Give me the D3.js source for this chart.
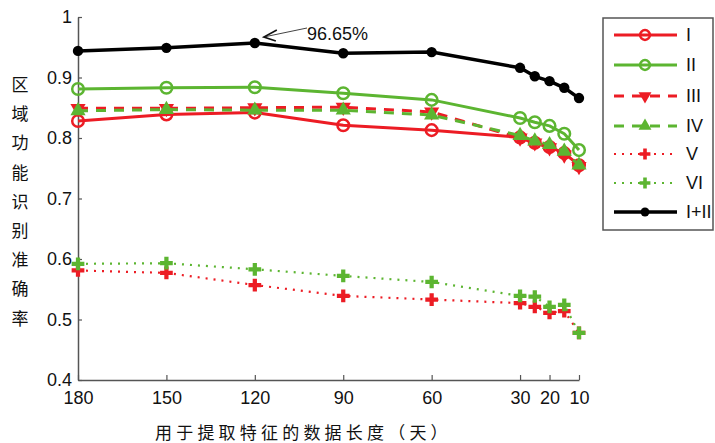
<!DOCTYPE html>
<html>
<head>
<meta charset="utf-8">
<script src="https://cdn.jsdelivr.net/npm/d3@7"></script>
<style>
  html, body { margin: 0; padding: 0; background: #fff; }
  svg { display: block; }
  text { font-family: "Liberation Sans", Arial, Helvetica, sans-serif; fill: #111; }
  .cjk { font-family: "Noto Sans CJK SC", sans-serif; }
</style>
</head>
<body>
<div id="container"></div>
<script>
const width = 715;
const height = 443;

// data length in days
const lengthDays = [180, 150, 120, 90, 60, 30, 25, 20, 15, 10];
const xTicks = [180, 150, 120, 90, 60, 30, 20, 10];
const yTicks = [0.4, 0.5, 0.6, 0.7, 0.8, 0.9, 1];

const seriesI   = [0.828, 0.839, 0.842, 0.821, 0.813, 0.801, 0.792, 0.785, 0.775, 0.755];
const seriesII  = [0.881, 0.883, 0.884, 0.874, 0.863, 0.833, 0.826, 0.820, 0.807, 0.780];
const seriesIII = [0.849, 0.849, 0.850, 0.851, 0.843, 0.800, 0.792, 0.784, 0.772, 0.753];
const seriesIV  = [0.845, 0.847, 0.846, 0.846, 0.838, 0.804, 0.795, 0.789, 0.778, 0.755];
const seriesV   = [0.581, 0.577, 0.557, 0.539, 0.533, 0.527, 0.521, 0.511, 0.514, 0.478];
const seriesVI  = [0.592, 0.593, 0.583, 0.572, 0.562, 0.539, 0.538, 0.521, 0.524, 0.478];
const seriesI_II = [0.944, 0.949, 0.957, 0.940, 0.942, 0.916, 0.902, 0.894, 0.883, 0.866];

const seriesNames = ['I', 'II', 'III', 'IV', 'V', 'VI', 'I+II'];
const peakLabel = '96.65%';
const yTitle = '区域功能识别准确率';
const xTitle = '用于提取特征的数据长度（天）';

const red = '#ec1c24';
const green = '#5cb531';
const black = '#000';

const styles = [
  {color: red, dash: null, width: 3, marker: 'circle'},
  {color: green, dash: null, width: 3, marker: 'circle'},
  {color: red, dash: '10,8', width: 3, marker: 'down'},
  {color: green, dash: '10,8', width: 3, marker: 'up'},
  {color: red, dash: '2,6', width: 2.2, marker: 'plus'},
  {color: green, dash: '2,6', width: 2.2, marker: 'plus'},
  {color: black, dash: null, width: 3.5, marker: 'dot'}
];

const allSeries = [seriesI, seriesII, seriesIII, seriesIV, seriesV, seriesVI, seriesI_II];

const x = d3.scaleLinear().domain([180, 10]).range([78, 579]);
const y = d3.scaleLinear().domain([0.4, 1]).range([380, 17]);

const svg = d3.select('#container').append('svg')
  .attr('width', width)
  .attr('height', height);

// axes
const xAxis = svg.append('g')
  .attr('transform', `translate(0,${y(0.4)})`)
  .call(d3.axisBottom(x).tickValues(xTicks).tickSizeInner(-5).tickSizeOuter(0).tickPadding(9));
const yAxis = svg.append('g')
  .attr('transform', `translate(${x(180)},0)`)
  .call(d3.axisLeft(y).tickValues(yTicks).tickSizeInner(-4).tickSizeOuter(0).tickPadding(6)
    .tickFormat(d => d === 1 ? '1' : d3.format('.1f')(d)));

[xAxis, yAxis].forEach(a => {
  a.select('.domain').attr('stroke', '#555').attr('stroke-width', 1.5);
  a.selectAll('.tick line').attr('stroke', '#555').attr('stroke-width', 1.2);
  a.selectAll('.tick text').attr('font-size', 18).attr('fill', '#111')
    .attr('font-family', '"Liberation Sans", Arial, sans-serif');
});
xAxis.selectAll('.tick text').attr('dy', '0.85em');

function drawMarker(g, kind, color, scale = 1) {
  if (kind === 'circle') {
    g.append('circle').attr('r', 5.8 * scale).attr('fill', 'none')
      .attr('stroke', color).attr('stroke-width', 2.5);
  } else if (kind === 'dot') {
    g.append('circle').attr('r', 5.2 * scale).attr('fill', color);
  } else if (kind === 'up' || kind === 'down') {
    g.append('path').attr('d', d3.symbol().type(d3.symbolTriangle).size(100 * scale * scale)())
      .attr('fill', color)
      .attr('transform', kind === 'down' ? 'rotate(180)' : null);
  } else if (kind === 'plus') {
    g.append('path').attr('d', d3.symbol().type(d3.symbolCross).size(90 * scale * scale)())
      .attr('fill', color);
  }
}

const line = d3.line()
  .x((d, i) => x(lengthDays[i]))
  .y(d => y(d));

allSeries.forEach((vals, k) => {
  const s = styles[k];
  const g = svg.append('g');
  g.append('path')
    .attr('d', line(vals))
    .attr('fill', 'none')
    .attr('stroke', s.color)
    .attr('stroke-width', s.width)
    .attr('stroke-dasharray', s.dash)
    .attr('stroke-linejoin', 'round');
  vals.forEach((v, i) => {
    const m = g.append('g').attr('transform', `translate(${x(lengthDays[i])},${y(v)})`);
    drawMarker(m, s.marker, s.color);
  });
});

// annotation on the peak
const peakIdx = 2;
const px = x(lengthDays[peakIdx]) + 9;
const py = y(seriesI_II[peakIdx]) - 6;
svg.append('line')
  .attr('x1', px).attr('y1', py)
  .attr('x2', 307).attr('y2', 28)
  .attr('stroke', '#444').attr('stroke-width', 1);
svg.append('path')
  .attr('d', `M${px + 13},${py - 7} L${px},${py} L${px + 12},${py + 4}`)
  .attr('fill', 'none').attr('stroke', '#111').attr('stroke-width', 1.6);
svg.append('text')
  .attr('x', 307).attr('y', 40)
  .attr('font-size', 18)
  .text(peakLabel);

// axis titles
const yChars = Array.from(yTitle);
svg.append('g').selectAll('text')
  .data(yChars)
  .join('text')
  .attr('class', 'cjk')
  .attr('x', 20)
  .attr('y', (d, i) => 85 + i * 29.2)
  .attr('dy', '0.35em')
  .attr('text-anchor', 'middle')
  .attr('font-size', 17)
  .text(d => d);

svg.append('text')
  .attr('class', 'cjk')
  .attr('x', 155)
  .attr('y', 439)
  .attr('font-size', 17)
  .attr('letter-spacing', 4.2)
  .text(xTitle);

// legend
const legend = svg.append('g');
legend.append('rect')
  .attr('x', 603).attr('y', 18)
  .attr('width', 110).attr('height', 212)
  .attr('fill', '#fff').attr('stroke', '#555').attr('stroke-width', 1.5);

const legendY = [35, 65, 96, 126, 154, 183, 212];
seriesNames.forEach((name, k) => {
  const s = styles[k];
  const row = legend.append('g').attr('transform', `translate(0,${legendY[k]})`);
  row.append('line')
    .attr('x1', 614).attr('x2', 677)
    .attr('stroke', s.color)
    .attr('stroke-width', s.width)
    .attr('stroke-dasharray', s.dash);
  drawMarker(row.append('g').attr('transform', 'translate(645,0)'), s.marker, s.color, 0.85);
  row.append('text')
    .attr('x', 686).attr('dy', '0.35em')
    .attr('font-size', 18)
    .text(name);
});
</script>
</body>
</html>
